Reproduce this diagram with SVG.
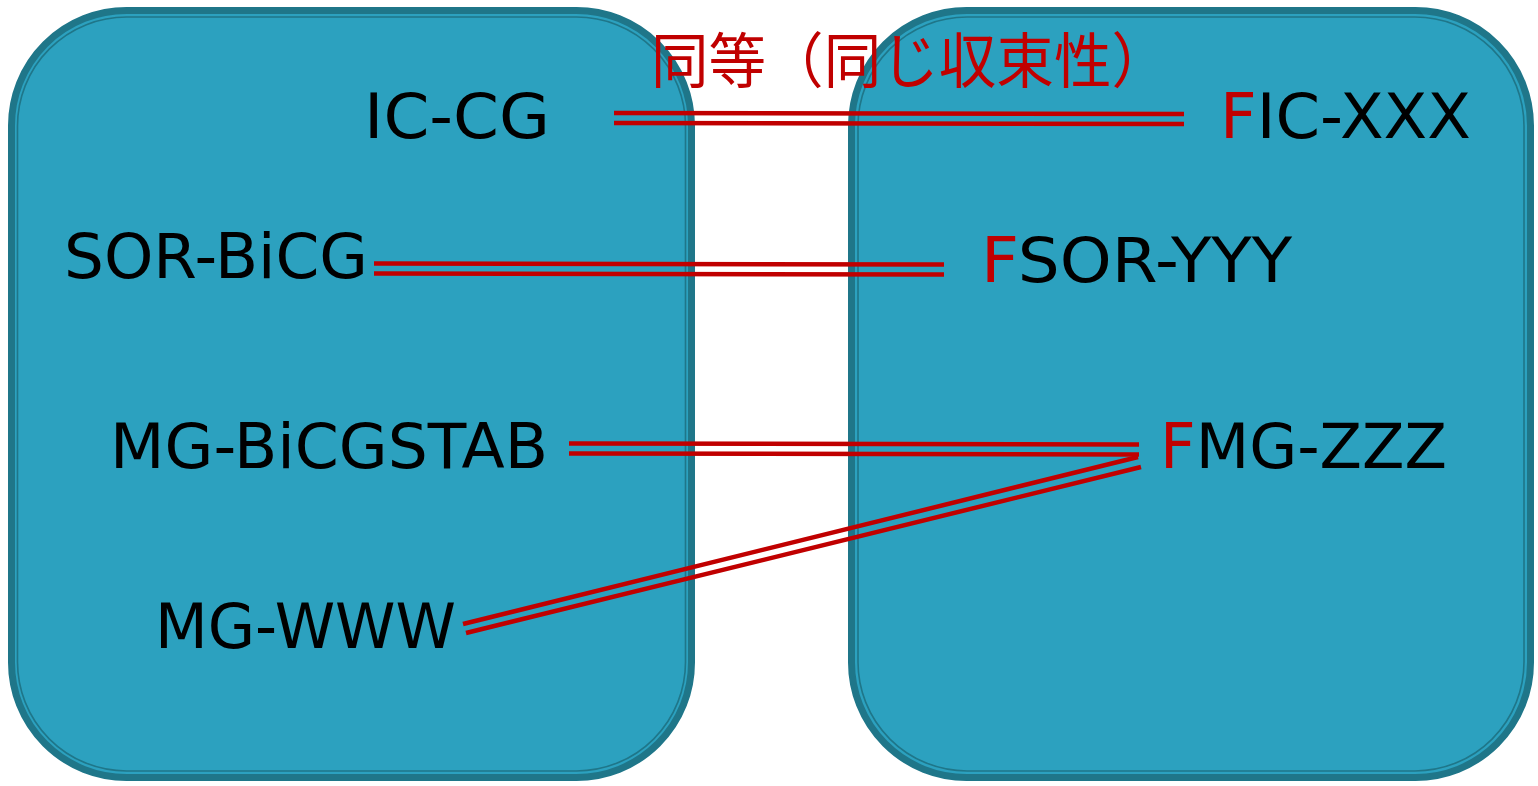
<svg xmlns="http://www.w3.org/2000/svg" width="1538" height="786" viewBox="0 0 1538 786">
<style>
.box{fill:#2CA1BF;stroke:#1F7689;stroke-width:7}
.inner{fill:none;stroke:#1F7689;stroke-width:1.6}
.lbl{font-family:"DejaVu Sans",sans-serif;font-size:63px;fill:#000}
.red{fill:#C00000}
.title{font-family:"Noto Sans CJK JP","Noto Sans CJK SC",sans-serif;font-size:60px;fill:#C00000}
.ln{stroke:#C00000;stroke-width:4.5;fill:none}
</style>
<rect width="1538" height="786" fill="#fff"/>
<g id="left-box">
<rect class="box" x="11.5" y="10.5" width="680" height="767" rx="115"/>
<rect class="inner" x="17.5" y="17" width="668" height="754" rx="109"/>
</g>
<g id="right-box">
<rect class="box" x="851.5" y="10.5" width="679" height="767" rx="115"/>
<rect class="inner" x="858" y="17" width="666" height="754" rx="109"/>
</g>
<g id="connectors">
<line class="ln" x1="614" y1="113" x2="1184" y2="114"/>
<line class="ln" x1="614" y1="123" x2="1184" y2="124"/>
<line class="ln" x1="374" y1="263.5" x2="944" y2="264.5"/>
<line class="ln" x1="374" y1="273.5" x2="944" y2="274.5"/>
<line class="ln" x1="569" y1="443.5" x2="1139" y2="444.5"/>
<line class="ln" x1="569" y1="453.5" x2="1139" y2="454.5"/>
<line class="ln" x1="463" y1="624" x2="1138" y2="457"/>
<line class="ln" x1="466" y1="633" x2="1141" y2="467"/>
</g>
<g id="title"><text class="title" x="651" y="83" textLength="518" lengthAdjust="spacingAndGlyphs">同等（同じ収束性）</text></g>
<g id="n-iccg"><text class="lbl" x="364" y="138" textLength="186" lengthAdjust="spacingAndGlyphs">IC-CG</text></g>
<g id="n-sorbicg"><text class="lbl" x="64" y="278" textLength="304" lengthAdjust="spacingAndGlyphs">SOR-BiCG</text></g>
<g id="n-mgbicgstab"><text class="lbl" x="110" y="468" textLength="438" lengthAdjust="spacingAndGlyphs">MG-BiCGSTAB</text></g>
<g id="n-mgwww"><text class="lbl" x="155" y="648" textLength="301" lengthAdjust="spacingAndGlyphs">MG-WWW</text></g>
<g id="n-ficxxx"><text class="lbl" x="1220" y="138" textLength="251" lengthAdjust="spacingAndGlyphs"><tspan class="red">F</tspan>IC-XXX</text></g>
<g id="n-fsoryyy"><text class="lbl" x="981" y="282" textLength="311" lengthAdjust="spacingAndGlyphs"><tspan class="red">F</tspan>SOR-YYY</text></g>
<g id="n-fmgzzz"><text class="lbl" x="1160" y="468" textLength="287" lengthAdjust="spacingAndGlyphs"><tspan class="red">F</tspan>MG-ZZZ</text></g>
</svg>
